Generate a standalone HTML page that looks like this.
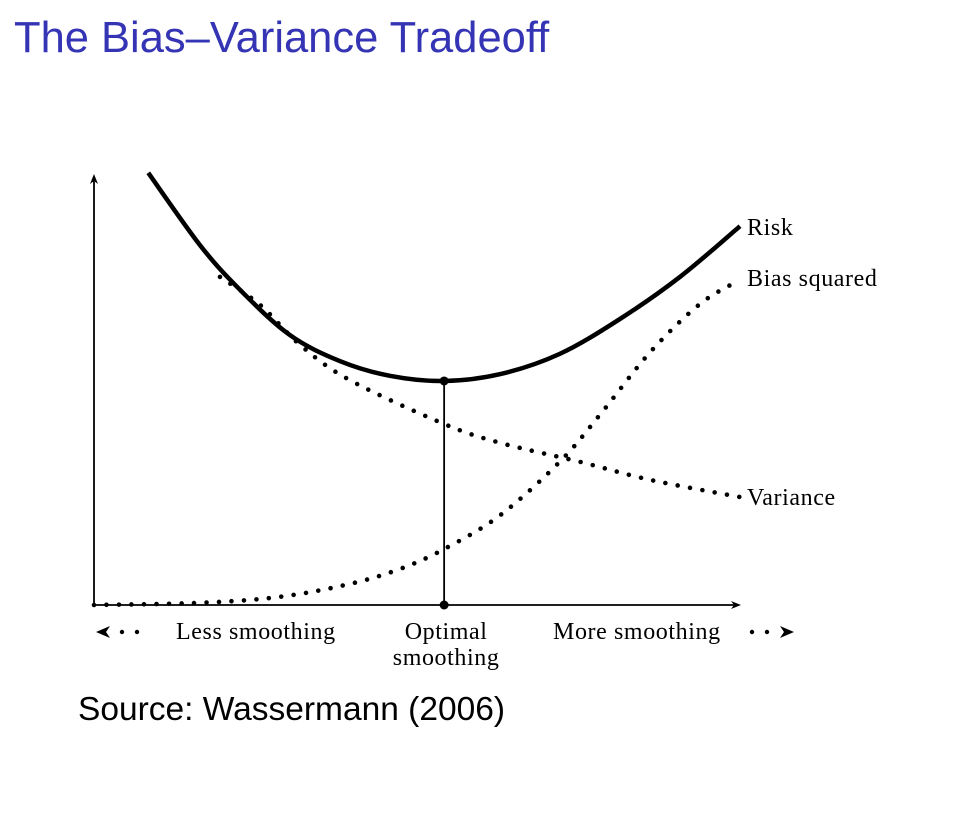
<!DOCTYPE html>
<html><head><meta charset="utf-8"><style>
body{margin:0;background:#fff;width:964px;height:814px;overflow:hidden}
svg{display:block}
</style></head><body>
<svg width="964" height="814">
<text x="14" y="52" font-family="Liberation Sans, sans-serif" font-size="43.5" fill="#3434b4">The Bias–Variance Tradeoff</text>
<text x="78" y="720" font-family="Liberation Sans, sans-serif" font-size="33.5" fill="#000">Source: Wassermann (2006)</text>
<g id="plot"></g>
</svg>
<script>
const riskX=[0.84,1.64,2.26,3.03,3.81,4.58,5.42,6.29,7.21,8.14,9.07,10];
const riskY=[10.05,8.37,7.33,6.28,5.67,5.33,5.21,5.37,5.84,6.65,7.63,8.81];
const varX=[1.95,2.57,3.19,3.96,5.42,6.29,7.52,8.61,10];
const varY=[7.63,6.98,6.05,5.23,4.21,3.77,3.33,2.91,2.51];
const biasX=[0,1.64,2.88,3.96,4.74,5.42,6.29,7.21,7.83,8.61,9.38,10];
const biasY=[0,0.05,0.19,0.49,0.84,1.3,2.09,3.33,4.42,5.88,7.0,7.56];
const optX=5.42, optY=5.21;
const sx=v=>94+v*64.6, sy=v=>605-v*43;
const NS='http://www.w3.org/2000/svg';
const g=document.getElementById('plot');
function mk(t,a){const e=document.createElementNS(NS,t);for(const k in a)e.setAttribute(k,a[k]);g.appendChild(e);return e;}
function path(xs,ys){const p=xs.map((x,i)=>[sx(x),sy(ys[i])]);let d='M'+p[0][0]+','+p[0][1];
for(let i=0;i<p.length-1;i++){const p0=p[Math.max(0,i-1)],p1=p[i],p2=p[i+1],p3=p[Math.min(p.length-1,i+2)];
d+=' C'+(p1[0]+(p2[0]-p0[0])/6)+','+(p1[1]+(p2[1]-p0[1])/6)+' '+(p2[0]-(p3[0]-p1[0])/6)+','+(p2[1]-(p3[1]-p1[1])/6)+' '+p2[0]+','+p2[1];}return d;}
let e;
e=mk('line',{x1:94,y1:605,x2:94,y2:180,stroke:'#000','stroke-width':1.8});

e=mk('path',{d:'M94,174 L90,184 L94,181 L98,184 Z',fill:'#000'});

e=mk('line',{x1:94,y1:605,x2:735,y2:605,stroke:'#000','stroke-width':1.8});

e=mk('path',{d:'M741,605 L731,601 L734,605 L731,609 Z',fill:'#000'});

e=mk('path',{d:path(biasX,biasY),fill:'none',stroke:'#000','stroke-width':4.6,'stroke-linecap':'round','stroke-dasharray':'0 12.5'});

e=mk('path',{d:path(varX,varY),fill:'none',stroke:'#000','stroke-width':4.6,'stroke-linecap':'round','stroke-dasharray':'0 12.5'});

e=mk('path',{d:path(riskX,riskY),fill:'none',stroke:'#000','stroke-width':4.5});

e=mk('line',{x1:sx(optX),y1:sy(optY),x2:sx(optX),y2:605,stroke:'#000','stroke-width':1.8});

e=mk('circle',{cx:sx(optX),cy:sy(optY),r:4.5,fill:'#000'});

e=mk('circle',{cx:sx(optX),cy:605,r:4.5,fill:'#000'});

const F='Liberation Serif, serif';
function txt(x,y,s,name,anchor){const t=mk('text',{x:x,y:y,'font-family':F,'font-size':24,'letter-spacing':0.6,'text-anchor':anchor||'start'});t.textContent=s;
}
txt(sx(10)+7,sy(riskY[riskY.length-1])+9,'Risk','risk-label');
txt(sx(10)+7,sy(biasY[biasY.length-1])+6,'Bias squared','bias-squared-label');
txt(sx(10)+7,sy(varY[varY.length-1])+8,'Variance','variance-label');
txt(176,639,'Less smoothing','less-smoothing-label');
txt(sx(optX)+2,639,'Optimal','optimal-label','middle');
txt(sx(optX)+2,665,'smoothing','optimal-smoothing-label','middle');
txt(553,639,'More smoothing','more-smoothing-label');
e=mk('path',{d:'M96,632 L110,626 L106,632 L110,638 Z',fill:'#000'});

[122,137].forEach(x=>{e=mk('circle',{cx:x,cy:632,r:2.2,fill:'#000'});
});
[752,767].forEach(x=>{e=mk('circle',{cx:x,cy:632,r:2.2,fill:'#000'});
});
e=mk('path',{d:'M794,632 L780,626 L784,632 L780,638 Z',fill:'#000'});

</script>
</body></html>
